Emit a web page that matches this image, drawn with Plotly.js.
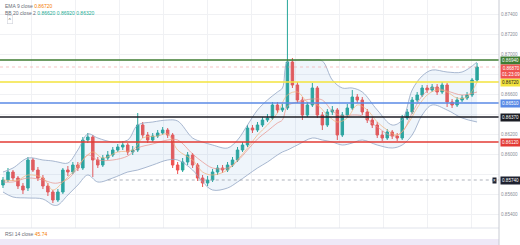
<!DOCTYPE html>
<html><head><meta charset="utf-8">
<script src="https://cdn.plot.ly/plotly-3.0.1.min.js"></script>
<style>html,body{margin:0;padding:0;background:#fff;}#chart{width:520px;height:245px;}</style>
</head><body><div id="chart"></div>
<script>
// Candles (price)
const openP  = [.8569,.8574,.8582,.8576,.8568,.8566,.8594,.8584,.8576,.8568,.8562,.8554,.8562,.8584,.8582,.8589,.8586,.8614,.8617,.8594,.8589,.8596,.8599,.8604,.8607,.8609,.8602,.8604,.8629,.8619,.8614,.8618,.8621,.8624,.8619,.8589,.8584,.8592,.8599,.8589,.8576,.8571,.8574,.8582,.8586,.8584,.8589,.8594,.8604,.8609,.8626,.8624,.8629,.8634,.8636,.8649,.8644,.8646,.8692,.8669,.8654,.8639,.8649,.8666,.8639,.8629,.8642,.8644,.8619,.8639,.8646,.8657,.8654,.8642,.8634,.8629,.8619,.8616,.8622,.8618,.8616,.8636,.8642,.8654,.8659,.8666,.8664,.8667,.8662,.8669,.8652,.8649,.8654,.8656,.8659,.8674];
const highP  = [.8577,.8586,.8584,.8578,.8571,.8597,.8596,.8587,.8579,.8571,.8564,.8565,.8586,.8588,.8592,.8592,.8617,.8621,.8619,.8597,.8599,.8603,.8607,.8610,.8613,.8611,.8608,.8641,.8632,.8622,.8621,.8624,.8627,.8626,.8621,.8592,.8596,.8602,.8601,.8591,.8579,.8578,.8585,.8589,.8589,.8592,.8597,.8607,.8612,.8629,.8629,.8632,.8637,.8640,.8652,.8652,.8650,.8759,.8696,.8672,.8657,.8652,.8671,.8668,.8642,.8645,.8648,.8646,.8642,.8650,.8664,.8660,.8657,.8645,.8637,.8632,.8623,.8625,.8624,.8621,.8639,.8645,.8657,.8662,.8669,.8669,.8670,.8670,.8672,.8671,.8655,.8657,.8659,.8662,.8676,.8691];
const lowP   = [.8566,.8572,.8573,.8565,.8560,.8563,.8582,.8573,.8565,.8558,.8551,.8552,.8560,.8578,.8580,.8583,.8584,.8611,.8577,.8586,.8587,.8594,.8597,.8602,.8604,.8599,.8599,.8602,.8616,.8611,.8612,.8616,.8619,.8616,.8586,.8580,.8582,.8589,.8586,.8573,.8567,.8568,.8572,.8579,.8581,.8582,.8587,.8592,.8602,.8607,.8621,.8622,.8627,.8632,.8634,.8641,.8642,.8644,.8666,.8651,.8634,.8637,.8647,.8636,.8624,.8627,.8639,.8614,.8617,.8637,.8644,.8651,.8639,.8631,.8626,.8616,.8613,.8614,.8615,.8613,.8614,.8634,.8640,.8652,.8657,.8661,.8662,.8659,.8660,.8647,.8646,.8647,.8652,.8654,.8657,.8672];
const closeP = [.8574,.8582,.8576,.8568,.8564,.8594,.8584,.8576,.8568,.8562,.8554,.8562,.8584,.8582,.8589,.8586,.8614,.8617,.8594,.8589,.8596,.8599,.8604,.8607,.8609,.8602,.8604,.8629,.8619,.8614,.8618,.8621,.8624,.8619,.8589,.8584,.8592,.8599,.8589,.8576,.8571,.8574,.8582,.8586,.8584,.8589,.8594,.8604,.8609,.8626,.8624,.8629,.8634,.8636,.8649,.8644,.8646,.8692,.8669,.8654,.8639,.8649,.8666,.8639,.8629,.8642,.8644,.8619,.8639,.8646,.8657,.8654,.8642,.8634,.8629,.8619,.8616,.8622,.8618,.8616,.8636,.8642,.8654,.8659,.8666,.8664,.8667,.8662,.8669,.8652,.8649,.8654,.8656,.8659,.8674,.8687];

// Bollinger band (read at anchor candles)
const bandIdx = [0,2,5,8,10,11,13,15,17,19,22,25,27,30,33,35,38,40,42,45,47,49,51,53,55,56,57,59,62,64,66,68,70,72,75,78,80,82,84,86,89,92,95];
const bbUpper = [.8582,.8586,.8596,.8594,.8593,.8592,.8591,.8604,.8620,.8616,.8612,.8614,.8629,.8632,.8634,.8633,.8616,.8612,.8609,.8606,.8614,.8629,.8644,.8654,.8662,.8666,.8692,.8694,.8694,.8693,.8674,.8666,.8666,.8662,.8644,.8629,.8634,.8664,.8678,.8684,.8682,.8682,.8692];
const bbBasis = [.8572,.8572,.8576,.8574,.8571,.8571,.8575,.8586,.8599,.8594,.8594,.8598,.8606,.8610,.8614,.8614,.8600,.8592,.8586,.8586,.8593,.8604,.8615,.8623,.8631,.8634,.8648,.8652,.8655,.8654,.8643,.8638,.8639,.8638,.8627,.8618,.8622,.8641,.8658,.8666,.8663,.8659,.8662];
const bbLower = [.8562,.8557,.8556,.8555,.8549,.8549,.8559,.8569,.8579,.8572,.8576,.8582,.8584,.8589,.8594,.8594,.8584,.8572,.8564,.8566,.8572,.8579,.8586,.8592,.8599,.8602,.8604,.8609,.8616,.8614,.8612,.8609,.8611,.8614,.8609,.8606,.8609,.8619,.8639,.8649,.8644,.8636,.8632];

// EMA 9 (read at anchor candles)
const emaIdx = [0,3,5,8,10,12,14,16,18,20,23,26,28,31,33,35,38,40,42,45,47,49,51,53,55,57,59,61,63,65,67,69,71,73,75,77,79,81,83,85,87,89,91,93,95];
const emaVal = [.8574,.8574,.8579,.8576,.8564,.8572,.8582,.8594,.8602,.8596,.8602,.8604,.8616,.8618,.8620,.8604,.8594,.8582,.8579,.8584,.8594,.8606,.8619,.8629,.8641,.8659,.8662,.8652,.8649,.8639,.8632,.8636,.8649,.8644,.8632,.8624,.8619,.8629,.8646,.8659,.8664,.8662,.8656,.8657,.8672];

// Horizontal levels
const levelPrice = [0.8694, 0.8672, 0.8651, 0.8637, 0.8612];
const levelColor = ['#3f7d32', '#f3e33c', '#5a8ae6', '#1b1d24', '#e33b35'];
const levelText  = ['#ffffff', '#222222', '#ffffff', '#ffffff', '#ffffff'];
const lowRayPrice = 0.8574, lowRayStart = 21;
const lastPrice = 0.8687, countdown = '01:23:09';

// Axis ticks (labels hidden behind price boxes are left blank)
const tickVals = [0.8540,0.8560,0.8580,0.8600,0.8620,0.8640,0.8660,0.8680,0.8700,0.8720,0.8740];
const tickHidden = [0.8580,0.8640,0.8680];
const tickText = tickVals.map(v => tickHidden.includes(v) ? '' : v.toFixed(5));

const idx = openP.map((_, i) => i);
const yMin = 0.8526, yMax = 0.8754;
const FONT = 'Liberation Sans';

const traces = [
  {x: bandIdx, y: bbUpper, type:'scatter', mode:'lines', line:{color:'#93a6c4', width:0.8, shape:'spline'}, hoverinfo:'skip'},
  {x: bandIdx, y: bbLower, type:'scatter', mode:'lines', line:{color:'#93a6c4', width:0.8, shape:'spline'}, fill:'tonexty', fillcolor:'rgba(110,165,220,0.11)', hoverinfo:'skip'},
  {x: bandIdx, y: bbBasis, type:'scatter', mode:'lines', line:{color:'#e8918a', width:0.7, shape:'spline'}, hoverinfo:'skip'},
  {x: emaIdx, y: emaVal, type:'scatter', mode:'lines', line:{color:'#f2b27a', width:0.7, shape:'spline'}, hoverinfo:'skip'},
  {x: idx, open: openP, high: highP, low: lowP, close: closeP, type:'candlestick',
   increasing:{line:{color:'#26a69a', width:1}, fillcolor:'#26a69a'},
   decreasing:{line:{color:'#ef5350', width:1}, fillcolor:'#ef5350'},
   whiskerwidth:0, hoverinfo:'skip'}
];

const shapes = [];
levelPrice.forEach((p, k) => {
  shapes.push({type:'line', xref:'paper', x0:0, x1:1, yref:'y', y0:p, y1:p, line:{color:levelColor[k], width:1.6}});
});
shapes.push({type:'line', xref:'x', x0:lowRayStart, x1:99.4, yref:'y', y0:lowRayPrice, y1:lowRayPrice, line:{color:'#9aa0aa', width:0.8, dash:'dot'}});
shapes.push({type:'line', xref:'paper', x0:0, x1:1, yref:'y', y0:lastPrice, y1:lastPrice, line:{color:'#f0a0a0', width:0.6, dash:'dot'}});
// pane separators / RSI band
shapes.push({type:'line', xref:'paper', x0:0, x1:1, yref:'paper', y0:17/245, y1:17/245, line:{color:'#e0e3eb', width:1}});
shapes.push({type:'rect', xref:'paper', x0:0, x1:1, yref:'paper', y0:0, y1:6/245, line:{width:0}, fillcolor:'rgba(126,87,194,0.13)'});
shapes.push({type:'line', xref:'paper', x0:1, x1:1, yref:'paper', y0:0, y1:1, line:{color:'#c8cbd3', width:1}});

const boxFont = (c) => ({size:4.6, color:c, family:FONT});
const annotations = [];
levelPrice.forEach((p, k) => {
  annotations.push({xref:'paper', x:1, xanchor:'left', xshift:1, yref:'y', y:p, yanchor:'middle', showarrow:false,
    text:p.toFixed(5), bgcolor:levelColor[k], borderpad:1, font:boxFont(levelText[k])});
});
annotations.push({xref:'paper', x:1, xanchor:'left', xshift:1, yref:'y', y:lastPrice, yanchor:'top', yshift:3, showarrow:false,
  text:lastPrice.toFixed(5)+'<br>'+countdown, bgcolor:'#ef5350', borderpad:1, font:boxFont('#ffffff')});
annotations.push({xref:'paper', x:1, xanchor:'left', xshift:1, yref:'y', y:lowRayPrice, yanchor:'middle', showarrow:false,
  text:lowRayPrice.toFixed(5), bgcolor:'#1f2230', borderpad:1, font:boxFont('#ffffff')});
annotations.push({xref:'paper', x:1, xanchor:'right', xshift:-2, yref:'y', y:lowRayPrice, yanchor:'middle', showarrow:false,
  text:'×', bgcolor:'#1f2230', borderpad:0, font:boxFont('#ffffff')});
// legends
annotations.push({xref:'paper', x:0.006, xanchor:'left', yref:'paper', y:1-1/245, yanchor:'top', showarrow:false,
  text:'EMA 9 close <span style="color:#f57c00">0.86720</span>', font:{size:5, color:'#6a6d78', family:FONT}});
annotations.push({xref:'paper', x:0.006, xanchor:'left', yref:'paper', y:1-8/245, yanchor:'top', showarrow:false,
  text:'BB 20 close 2 <span style="color:#22ab94">0.86620 0.86920 0.86320</span>', font:{size:5, color:'#6a6d78', family:FONT}});
annotations.push({xref:'paper', x:0.014, xanchor:'left', yref:'paper', y:1-15/245, yanchor:'top', showarrow:false,
  text:'^', bordercolor:'#d0d3da', borderwidth:0.6, borderpad:1, font:{size:5, color:'#555', family:FONT}});
annotations.push({xref:'paper', x:0.006, xanchor:'left', yref:'paper', y:11/245, yanchor:'middle', showarrow:false,
  text:'RSI 14 close <span style="color:#f57c00">45.74</span>', font:{size:5, color:'#6a6d78', family:FONT}});

const layout = {
  width:520, height:245, margin:{l:0, r:21, t:0, b:0},
  paper_bgcolor:'#ffffff', plot_bgcolor:'#ffffff', showlegend:false,
  xaxis:{range:[-0.6, 99.4], showgrid:true, gridcolor:'#f0f1f4', gridwidth:1, tick0:5.8, dtick:8.8,
         showticklabels:false, zeroline:false, rangeslider:{visible:false}, fixedrange:true},
  yaxis:{domain:[17/245, 1], range:[yMin, yMax], side:'right', tickvals:tickVals, ticktext:tickText,
         showgrid:true, gridcolor:'#f0f1f4', zeroline:false, ticks:'', ticklabelstandoff:1,
         tickfont:{size:4.6, color:'#8a8d96', family:FONT}, fixedrange:true},
  shapes: shapes, annotations: annotations
};

Plotly.newPlot('chart', traces, layout, {staticPlot:true, displayModeBar:false});
</script></body></html>
